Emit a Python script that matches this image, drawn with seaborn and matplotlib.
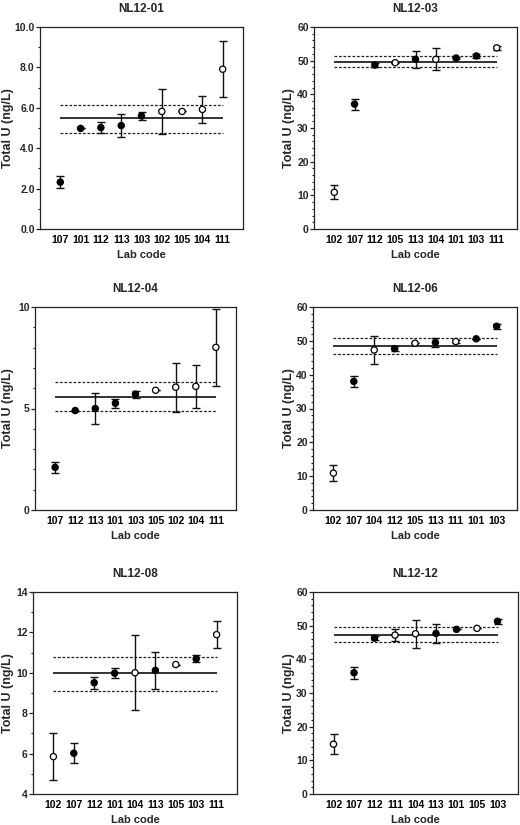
import seaborn as sns
import matplotlib.pyplot as plt
from matplotlib.ticker import MultipleLocator
import pandas as pd

# ----------------------------------------------------
# Data (value, uncertainty, result type)
# ----------------------------------------------------
panel_names = ["NL12-01", "NL12-03", "NL12-04", "NL12-06", "NL12-08", "NL12-12"]

labs_01 = ["107", "101", "112", "113", "103", "102", "105", "104", "111"]
vals_01 = [2.32, 4.98, 5.02, 5.12, 5.60, 5.82, 5.82, 5.92, 7.91]
unc_01 = [0.30, 0.0, 0.28, 0.58, 0.19, 1.11, 0.0, 0.66, 1.40]
kind_01 = ["filled", "filled", "filled", "filled", "filled", "open", "open", "open", "open"]
ref_01 = [5.48, 4.74, 6.13]

labs_03 = ["102", "107", "112", "105", "113", "104", "101", "103", "111"]
vals_03 = [10.9, 37.1, 48.7, 49.4, 50.4, 50.4, 50.8, 51.4, 53.8]
unc_03 = [2.1, 1.65, 0.5, 0.0, 2.5, 3.25, 0.3, 0.5, 0.7]
kind_03 = ["open", "filled", "filled", "open", "filled", "open", "filled", "filled", "open"]
ref_03 = [49.75, 48.1, 51.5]

labs_04 = ["107", "112", "113", "101", "103", "105", "102", "104", "111"]
vals_04 = [2.10, 4.90, 5.00, 5.26, 5.71, 5.90, 6.05, 6.09, 8.01]
unc_04 = [0.28, 0.0, 0.78, 0.22, 0.17, 0.0, 1.20, 1.07, 1.90]
kind_04 = ["filled", "filled", "filled", "filled", "filled", "open", "open", "open", "open"]
ref_04 = [5.59, 4.87, 6.32]

labs_06 = ["102", "107", "104", "112", "105", "113", "111", "101", "103"]
vals_06 = [10.9, 38.0, 47.3, 47.7, 49.3, 49.5, 49.8, 50.6, 54.3]
unc_06 = [2.3, 1.7, 4.2, 0.75, 0.0, 1.4, 0.55, 0.0, 0.8]
kind_06 = ["open", "filled", "open", "filled", "open", "filled", "open", "filled", "filled"]
ref_06 = [48.6, 46.2, 50.8]

labs_08 = ["102", "107", "112", "101", "104", "113", "105", "103", "111"]
vals_08 = [5.85, 6.02, 9.51, 9.98, 10.0, 10.12, 10.41, 10.69, 11.89]
unc_08 = [1.17, 0.50, 0.30, 0.24, 1.86, 0.91, 0.0, 0.18, 0.66]
kind_08 = ["open", "filled", "filled", "filled", "open", "filled", "open", "filled", "open"]
ref_08 = [10.0, 9.1, 10.77]

labs_12 = ["102", "107", "112", "111", "104", "113", "101", "105", "103"]
vals_12 = [14.8, 36.0, 46.3, 47.2, 47.6, 47.7, 48.9, 49.2, 51.3]
unc_12 = [2.9, 1.7, 0.55, 1.7, 4.2, 2.75, 0.0, 0.0, 0.7]
kind_12 = ["open", "filled", "filled", "open", "open", "filled", "filled", "open", "filled"]
ref_12 = [47.3, 45.2, 49.7]

panel_data = [
    (labs_01, vals_01, unc_01, kind_01, ref_01),
    (labs_03, vals_03, unc_03, kind_03, ref_03),
    (labs_04, vals_04, unc_04, kind_04, ref_04),
    (labs_06, vals_06, unc_06, kind_06, ref_06),
    (labs_08, vals_08, unc_08, kind_08, ref_08),
    (labs_12, vals_12, unc_12, kind_12, ref_12),
]

# y axis settings per panel: (ymin, ymax, major, minor, label format)
y_axes = [
    (0, 10, 2, 1, "{:.1f}"),
    (0, 60, 10, 2, "{:.0f}"),
    (0, 10, 5, 1, "{:.0f}"),
    (0, 60, 10, 2, "{:.0f}"),
    (4, 14, 2, 1, "{:.0f}"),
    (0, 60, 10, 2, "{:.0f}"),
]

# axes boxes in pixels: left, top, right, bottom ; y-label centre x
W, H = 520, 825
boxes = [
    (40, 27, 243, 229, 8),
    (314, 27, 517, 229, 289),
    (35, 307, 236, 510, 8),
    (313, 307, 517, 510, 289),
    (33, 592, 237, 794, 8),
    (313, 592, 518, 794, 289),
]

sns.set_style("ticks")
plt.rcParams["font.family"] = ["Liberation Sans", "DejaVu Sans"]
plt.rcParams["font.weight"] = "bold"

fig = plt.figure(figsize=(W / 100, H / 100), dpi=100)
edge = "#222222"

for name, (labs, vals, unc, kind, ref), (ymin, ymax, major, minor, fmt), box in zip(
        panel_names, panel_data, y_axes, boxes):
    left, top, right, bottom, ylab_x = box
    ax = fig.add_axes([left / W, 1 - bottom / H, (right - left) / W, (bottom - top) / H])

    df = pd.DataFrame({"lab": labs, "value": vals, "unc": unc, "kind": kind})

    ax.errorbar(df["lab"], df["value"], yerr=df["unc"], fmt="none",
                ecolor="#111111", elinewidth=1.0, capsize=3.2, capthick=1.0, zorder=2)
    sns.scatterplot(data=df, x="lab", y="value", hue="kind",
                    palette={"filled": "black", "open": "white"},
                    edgecolor="black", linewidth=0.9, s=20, legend=False,
                    ax=ax, zorder=3)

    # assigned value and limits
    ax.hlines(ref[0], 0, len(labs) - 1, color="#333333", lw=1.4, zorder=1)
    ax.hlines(ref[1:], 0, len(labs) - 1, color="#222222", lw=0.9,
              linestyles=(0, (2.2, 1.4)), zorder=1)

    ax.set_xlim(-1, len(labs))
    ax.set_ylim(ymin, ymax)
    ax.yaxis.set_major_locator(MultipleLocator(major))
    ax.yaxis.set_minor_locator(MultipleLocator(minor))
    ax.set_yticks(ax.get_yticks())
    ax.set_yticklabels([fmt.format(t) for t in ax.get_yticks()])
    ax.set_ylim(ymin, ymax)

    ax.tick_params(axis="x", length=0, pad=4.5, labelsize=7.5, colors="black")
    ax.tick_params(axis="y", which="major", length=3, width=0.9, pad=0.8,
                   labelsize=7.5, color=edge)
    ax.tick_params(axis="y", which="minor", length=1.6, width=0.8, color=edge)
    for t in ax.get_xticklabels() + ax.get_yticklabels():
        t.set_fontweight("bold")

    for sp in ax.spines.values():
        sp.set_visible(True)
        sp.set_color(edge)
        sp.set_linewidth(0.9)

    ax.set_title(name, fontsize=8.5, fontweight="bold", pad=11)
    ax.set_xlabel("Lab code", fontsize=8, fontweight="bold")
    ax.set_ylabel("Total U (ng/L)", fontsize=9, fontweight="bold")
    ax.xaxis.label.set_va("center")
    ax.yaxis.label.set_va("center")
    ax.xaxis.set_label_coords(0.5, -26 / (bottom - top))
    ax.yaxis.set_label_coords((ylab_x - left) / (right - left), 0.5)

fig.savefig("out.png", dpi=100)
plt.close(fig)
